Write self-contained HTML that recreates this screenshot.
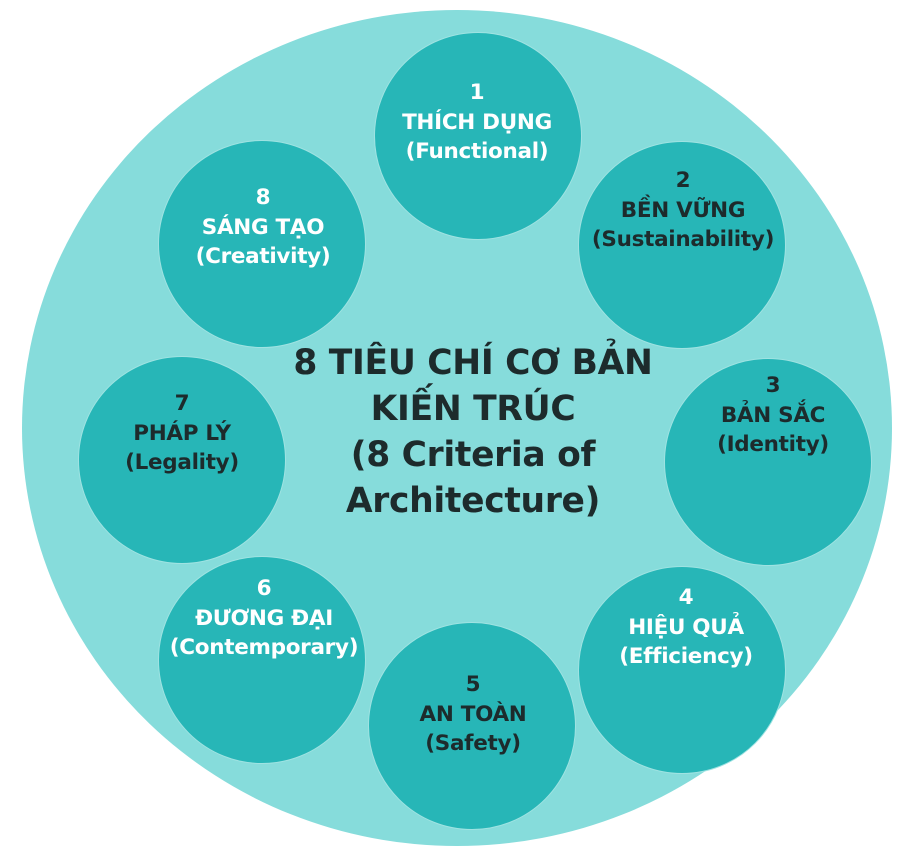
<!DOCTYPE html>
<html><head><meta charset="utf-8"><style>
body{margin:0;width:924px;height:854px;background:#fff;position:relative;overflow:hidden;font-family:"DejaVu Sans","Liberation Sans",sans-serif;font-weight:bold}
.big{position:absolute;left:22px;top:10px;width:870px;height:836px;border-radius:50%;background:#86dcdb}
.c{position:absolute;width:208px;height:208px;border-radius:50%;background:#27b6b7;border:1px solid #9fe3e2;box-sizing:border-box}
.t{position:absolute;width:260px;text-align:center;font-size:21.5px;line-height:29.5px;color:#fff;letter-spacing:-0.3px}
.d{color:#1d2b2c}
.title{position:absolute;left:233px;top:340px;width:480px;text-align:center;font-size:34.5px;line-height:46px;color:#1d2b2c;letter-spacing:-0.3px}
</style></head><body>
<div class="big"></div>
<div class="c" style="left:374px;top:32px"></div>
<div class="c" style="left:158px;top:140px"></div>
<div class="c" style="left:578px;top:141px"></div>
<div class="c" style="left:78px;top:356px"></div>
<div class="c" style="left:664px;top:358px"></div>
<div class="c" style="left:158px;top:556px"></div>
<div class="c" style="left:578px;top:566px"></div>
<div class="c" style="left:368px;top:622px"></div>
<div class="t" style="left:347px;top:78px">1<br>THÍCH DỤNG<br>(Functional)</div>
<div class="t" style="left:133px;top:183px">8<br>SÁNG TẠO<br>(Creativity)</div>
<div class="t d" style="left:553px;top:166px">2<br>BỀN VỮNG<br>(Sustainability)</div>
<div class="t d" style="left:52px;top:389px">7<br>PHÁP LÝ<br>(Legality)</div>
<div class="t d" style="left:643px;top:371px">3<br>BẢN SẮC<br>(Identity)</div>
<div class="t" style="left:134px;top:574px">6<br>ĐƯƠNG ĐẠI<br>(Contemporary)</div>
<div class="t" style="left:556px;top:583px">4<br>HIỆU QUẢ<br>(Efficiency)</div>
<div class="t d" style="left:343px;top:670px">5<br>AN TOÀN<br>(Safety)</div>
<div class="title">8 TIÊU CHÍ CƠ BẢN<br>KIẾN TRÚC<br>(8 Criteria of<br>Architecture)</div>
</body></html>
